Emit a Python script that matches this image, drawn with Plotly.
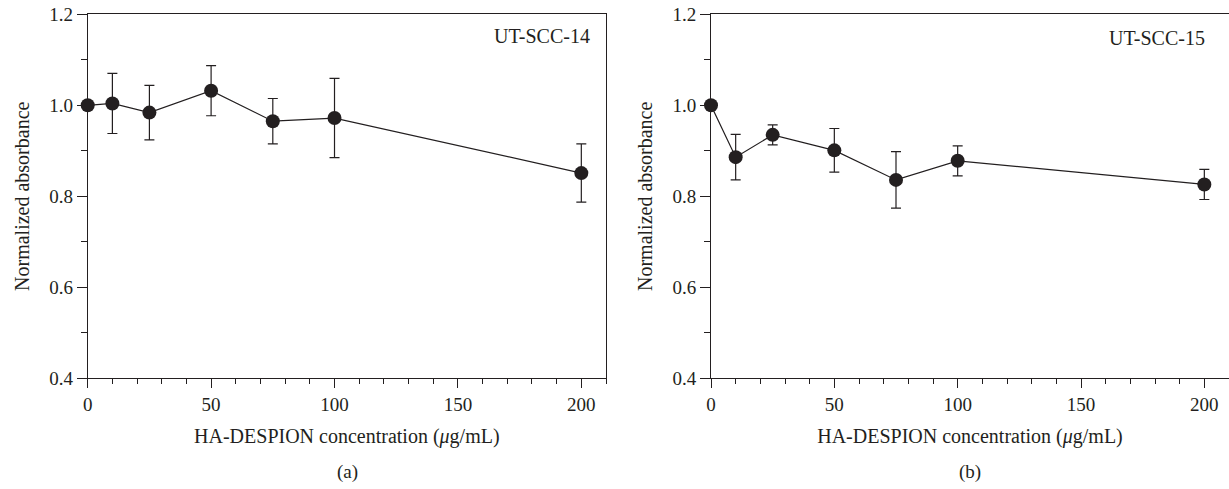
import plotly.graph_objects as go

conc = [0, 10, 25, 50, 75, 100, 200]

a_mean = [1.000, 1.004, 0.984, 1.032, 0.965, 0.972, 0.851]
a_err = [0.0, 0.066, 0.060, 0.055, 0.050, 0.087, 0.064]

b_mean = [1.000, 0.886, 0.935, 0.901, 0.836, 0.878, 0.826]
b_err = [0.0, 0.050, 0.022, 0.048, 0.062, 0.033, 0.033]

labels = ["UT-SCC-14", "UT-SCC-15"]
panel_tags = ["(a)", "(b)"]
x_ticks = [0, 50, 100, 150, 200]
y_ticks = [0.4, 0.6, 0.8, 1.0, 1.2]

W, H = 1229, 489
ink = "#231f20"
FONT = "Liberation Serif, DejaVu Serif, serif"
FS_T = 19
FS = 20

fig = go.Figure()

for i, (m, e) in enumerate([(a_mean, a_err), (b_mean, b_err)]):
    xa = "x" if i == 0 else "x2"
    ya = "y" if i == 0 else "y2"
    fig.add_trace(go.Scatter(
        x=conc, y=m, xaxis=xa, yaxis=ya, mode="lines+markers",
        line=dict(color=ink, width=1.2),
        marker=dict(color=ink, size=14, symbol="circle"),
        error_y=dict(type="data", array=e, visible=True, color=ink,
                     thickness=1.2, width=5),
        cliponaxis=False, showlegend=False,
    ))

x_domains = [[87.7 / W, 606 / W], [711 / W, 1.0]]
y_dom = [1 - 378.3 / H, 1 - 14.3 / H]

common_x = dict(
    range=[0, 210], tickvals=x_ticks, ticktext=[str(v) for v in x_ticks],
    ticks="outside", ticklen=9, tickwidth=1, tickcolor=ink,
    showline=True, linecolor=ink, linewidth=1, mirror=True,
    showgrid=False, zeroline=False, automargin=False,
    minor=dict(dtick=10, tick0=0, ticks="outside", ticklen=5, tickcolor=ink, tickwidth=1),
    tickfont=dict(family=FONT, size=FS_T, color=ink),
    title=dict(text="HA-DESPION concentration (<i>μ</i>g/mL)",
               font=dict(family=FONT, size=FS, color=ink), standoff=14),
)
common_y = dict(
    range=[0.4, 1.2], tickvals=y_ticks, ticktext=["%.1f" % v for v in y_ticks],
    ticks="outside", ticklen=10, tickwidth=1, tickcolor=ink,
    showline=True, linecolor=ink, linewidth=1, mirror=True,
    showgrid=False, zeroline=False, automargin=False,
    minor=dict(dtick=0.1, tick0=0.4, ticks="outside", ticklen=6, tickcolor=ink, tickwidth=1),
    tickfont=dict(family=FONT, size=FS_T, color=ink),
    title=dict(text="Normalized absorbance",
               font=dict(family=FONT, size=FS, color=ink), standoff=14),
)

fig.update_layout(
    width=W, height=H,
    margin=dict(l=0, r=0, t=0, b=0),
    paper_bgcolor="white", plot_bgcolor="white",
    xaxis=dict(domain=x_domains[0], anchor="y", **common_x),
    yaxis=dict(domain=y_dom, anchor="x", **common_y),
    xaxis2=dict(domain=x_domains[1], anchor="y2", **common_x),
    yaxis2=dict(domain=y_dom, anchor="x2", **common_y),
)

fig.add_annotation(text=labels[0], xref="paper", yref="paper",
                   x=592 / W, y=1 - 36 / H, xanchor="right", yanchor="middle",
                   showarrow=False, font=dict(family=FONT, size=FS, color=ink))
fig.add_annotation(text=labels[1], xref="paper", yref="paper",
                   x=1207 / W, y=1 - 38 / H, xanchor="right", yanchor="middle",
                   showarrow=False, font=dict(family=FONT, size=FS, color=ink))
fig.add_annotation(text=panel_tags[0], xref="paper", yref="paper",
                   x=347 / W, y=1 - 472 / H, xanchor="center", yanchor="middle",
                   showarrow=False, font=dict(family=FONT, size=FS - 1, color=ink))
fig.add_annotation(text=panel_tags[1], xref="paper", yref="paper",
                   x=970 / W, y=1 - 472 / H, xanchor="center", yanchor="middle",
                   showarrow=False, font=dict(family=FONT, size=FS - 1, color=ink))

fig.write_html("out.html")
